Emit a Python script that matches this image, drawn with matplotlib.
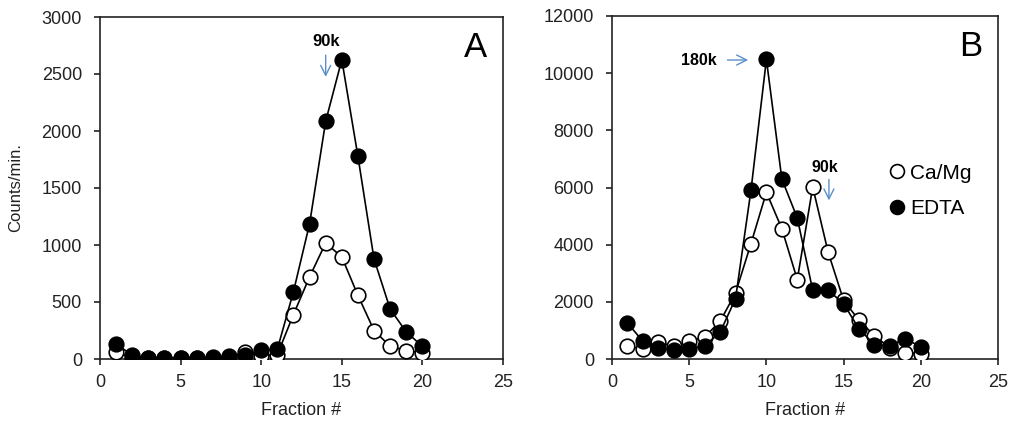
import numpy as np
import matplotlib.pyplot as plt

plt.rcParams['font.family'] = ['Liberation Sans', 'DejaVu Sans']

fraction = list(range(1, 21))

# panel A
a_camg = [60, 10, 8, 8, 8, 8, 10, 15, 60, 30, 38, 390, 720, 1018, 895, 558, 250, 111, 73, 53]
a_edta = [130, 35, 10, 10, 10, 10, 15, 25, 35, 75, 85, 590, 1185, 2085, 2625, 1778, 877, 438, 237, 111]

# panel B
b_camg = [443, 350, 583, 443, 618, 770, 1318, 2309, 4035, 5832, 4560, 2776, 6018, 3733, 2052,
          1353, 816, 385, 210, 187]
b_edta = [1260, 618, 385, 326, 350, 466, 933, 2110, 5900, 10480, 6297, 4933, 2403, 2403, 1936,
          1050, 502, 466, 711, 420]

fig = plt.figure(figsize=(10.24, 4.32), dpi=100)
axA = fig.add_axes([100/1024, 1-359/432, 403/1024, 342/432])
axB = fig.add_axes([612/1024, 1-359/432, 386/1024, 343/432])

ms = 10.5
txt = '#222222'
blue = '#5b8fc7'
for ax, camg, edta in [(axA, a_camg, a_edta), (axB, b_camg, b_edta)]:
    ax.plot(fraction, camg, '-o', color='black', mfc='white', mec='black',
            ms=ms, lw=1.2, mew=1.2, label='Ca/Mg', zorder=3)
    ax.plot(fraction, edta, '-o', color='black', mfc='black', mec='black',
            ms=ms, lw=1.2, mew=1.2, label='EDTA', zorder=4)
    ax.set_xlim(0, 25)
    ax.set_xticks([0, 5, 10, 15, 20, 25])
    ax.tick_params(direction='out', length=4, width=1.2, labelsize=13,
                   colors=txt, labelcolor=txt)
    ax.tick_params(axis='x', pad=7)
    ax.tick_params(axis='y', pad=9)
    for s in ax.spines.values():
        s.set_linewidth(1.2)
        s.set_color(txt)
    ax.set_xlabel('Fraction #', fontsize=13, color=txt)
    ax.xaxis.set_label_coords(0.5, -0.125)

axA.set_ylim(0, 3000)
axA.set_yticks(range(0, 3001, 500))
axA.set_ylabel('Counts/min.', fontsize=12, color=txt)
axA.yaxis.set_label_coords(-0.19, 0.5)
axA.text(0.96, 0.96, 'A', transform=axA.transAxes, fontsize=25, ha='right', va='top')
axA.annotate('', xy=(14, 2450), xytext=(14, 2690),
             arrowprops=dict(arrowstyle='->', color=blue, lw=1, mutation_scale=18))
axA.text(14, 2720, '90k', ha='center', va='bottom', fontsize=12, fontweight='bold')

axB.set_ylim(0, 12000)
axB.set_yticks(range(0, 12001, 2000))
axB.text(0.96, 0.96, 'B', transform=axB.transAxes, fontsize=25, ha='right', va='top')
axB.annotate('', xy=(9.0, 10460), xytext=(7.3, 10460),
             arrowprops=dict(arrowstyle='->', color=blue, lw=1, mutation_scale=18))
axB.text(6.8, 10460, '180k', ha='right', va='center', fontsize=11.5, fontweight='bold')
axB.annotate('', xy=(14.05, 5450), xytext=(14.05, 6380),
             arrowprops=dict(arrowstyle='->', color=blue, lw=1, mutation_scale=18))
axB.text(13.8, 6450, '90k', ha='center', va='bottom', fontsize=11.5, fontweight='bold')
axB.legend(loc='center left', bbox_to_anchor=(0.70, 0.49), frameon=False, fontsize=15,
           handlelength=0.6, handletextpad=0.35, labelspacing=0.8, markerscale=0.95,
           borderaxespad=0)
for h in axB.get_legend().get_lines():
    h.set_linestyle('none')

fig.savefig('out.png', dpi=100)
